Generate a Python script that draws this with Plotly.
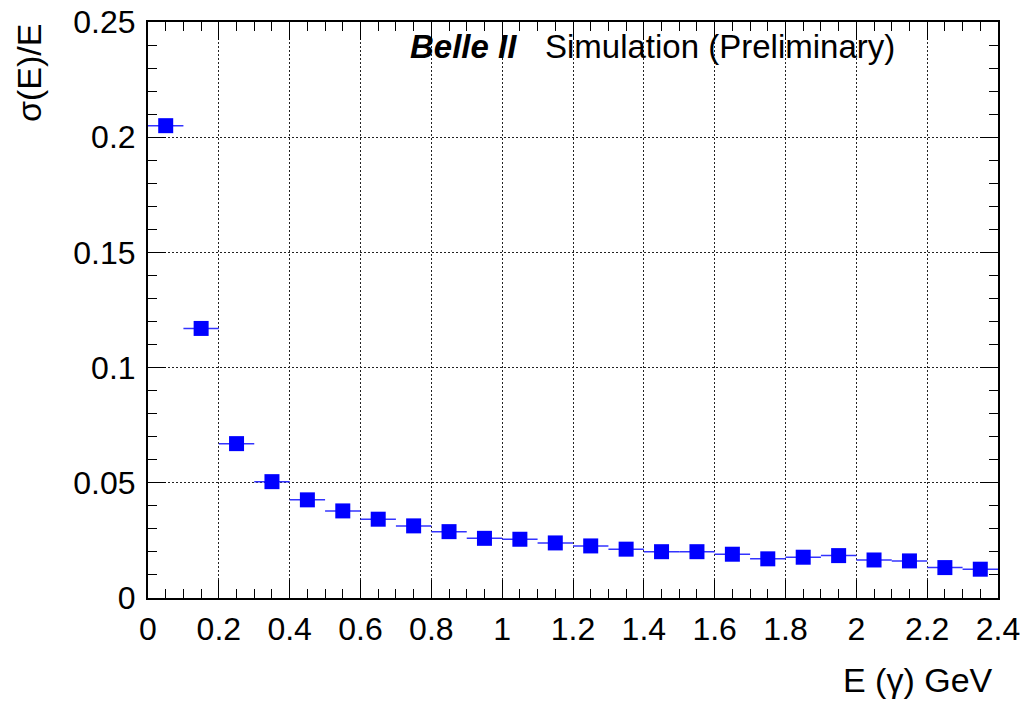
import plotly.graph_objects as go

# photon energy bin centres (GeV) and relative resolution
energy = [0.05, 0.15, 0.25, 0.35, 0.45, 0.55, 0.65, 0.75, 0.85, 0.95, 1.05, 1.15,
          1.25, 1.35, 1.45, 1.55, 1.65, 1.75, 1.85, 1.95, 2.05, 2.15, 2.25, 2.35]
resolution = [0.205, 0.117, 0.067, 0.0505, 0.0426, 0.0378, 0.0342, 0.0313, 0.0288,
              0.0259, 0.0255, 0.0239, 0.0226, 0.0212, 0.0201, 0.0201, 0.0190, 0.0170,
              0.0177, 0.0184, 0.0165, 0.0161, 0.0132, 0.0125]
bin_half_width = [0.05] * len(energy)

FONT = "Liberation Sans, Arial, Helvetica, sans-serif"

fig = go.Figure()

fig.add_trace(go.Scatter(
    x=energy,
    y=resolution,
    mode="markers",
    marker=dict(symbol="square", size=15, color="#0000ff", line=dict(width=0)),
    error_x=dict(type="data", array=bin_half_width, color="#3333ff",
                 thickness=1.5, width=0),
    showlegend=False,
))

tick_style = dict(ticks="inside", ticklen=18, tickwidth=1, tickcolor="black")
minor_x = dict(dtick=0.05, ticks="inside", ticklen=9, tickcolor="black", showgrid=False)
minor_y = dict(dtick=0.01, ticks="inside", ticklen=9, tickcolor="black", showgrid=False)

grid_style = dict(showgrid=True, gridcolor="#222222", gridwidth=1.3, griddash="1.5px,2.5px")

fig.update_layout(
    xaxis=dict(range=[0, 2.4], dtick=0.2, tick0=0, minor=minor_x,
               showline=True, linecolor="black", linewidth=2, mirror=True,
               zeroline=False, ticklabelstandoff=2, ticklabeloverflow="allow",
               automargin=False,
               tickfont=dict(family=FONT, size=32, color="black"),
               **tick_style, **grid_style),
    yaxis=dict(range=[0, 0.25], dtick=0.05, tick0=0, minor=minor_y,
               showline=True, linecolor="black", linewidth=2, mirror=True,
               zeroline=False, ticklabelstandoff=4, ticklabeloverflow="allow",
               automargin=False,
               tickfont=dict(family=FONT, size=32, color="black"),
               **tick_style, **grid_style),
    # mirrored tick marks on top and right, ROOT style
    xaxis2=dict(range=[0, 2.4], dtick=0.2, tick0=0, minor=minor_x,
                overlaying="x", side="top", anchor="y", showticklabels=False,
                showgrid=False, zeroline=False, automargin=False, **tick_style),
    yaxis2=dict(range=[0, 0.25], dtick=0.05, tick0=0, minor=minor_y,
                overlaying="y", side="right", anchor="x", showticklabels=False,
                showgrid=False, zeroline=False, automargin=False, **tick_style),
)

# invisible trace so the mirrored axes get drawn
fig.add_trace(go.Scatter(x=[None], y=[None], xaxis="x2", yaxis="y2",
                         mode="markers", showlegend=False, hoverinfo="skip"))

# Belle II label
fig.add_annotation(
    x=0.306, y=0.957, xref="paper", yref="paper", xanchor="left", yanchor="middle",
    text="<b><i>Belle II</i></b>", showarrow=False,
    font=dict(family=FONT, size=33, color="black"),
)
fig.add_annotation(
    x=0.465, y=0.957, xref="paper", yref="paper", xanchor="left", yanchor="middle",
    text="Simulation (Preliminary)", showarrow=False,
    font=dict(family=FONT, size=33, color="black"),
)

# axis titles placed ROOT-style (right / top aligned)
fig.add_annotation(
    x=0.996, y=-0.142, xref="paper", yref="paper", xanchor="right", yanchor="middle",
    text="E (γ) GeV", showarrow=False,
    font=dict(family=FONT, size=34, color="black"),
)
fig.add_annotation(
    x=-0.14, y=1.0, xref="paper", yref="paper", xanchor="center", yanchor="top",
    text="σ(E)/E", textangle=-90, showarrow=False,
    font=dict(family=FONT, size=34, color="black"),
)

fig.update_layout(
    width=1030,
    height=702,
    margin=dict(l=140, r=40, t=14, b=112, autoexpand=False),
    plot_bgcolor="white",
    paper_bgcolor="white",
    font=dict(family=FONT, color="black"),
)

fig.write_html("out.html")
